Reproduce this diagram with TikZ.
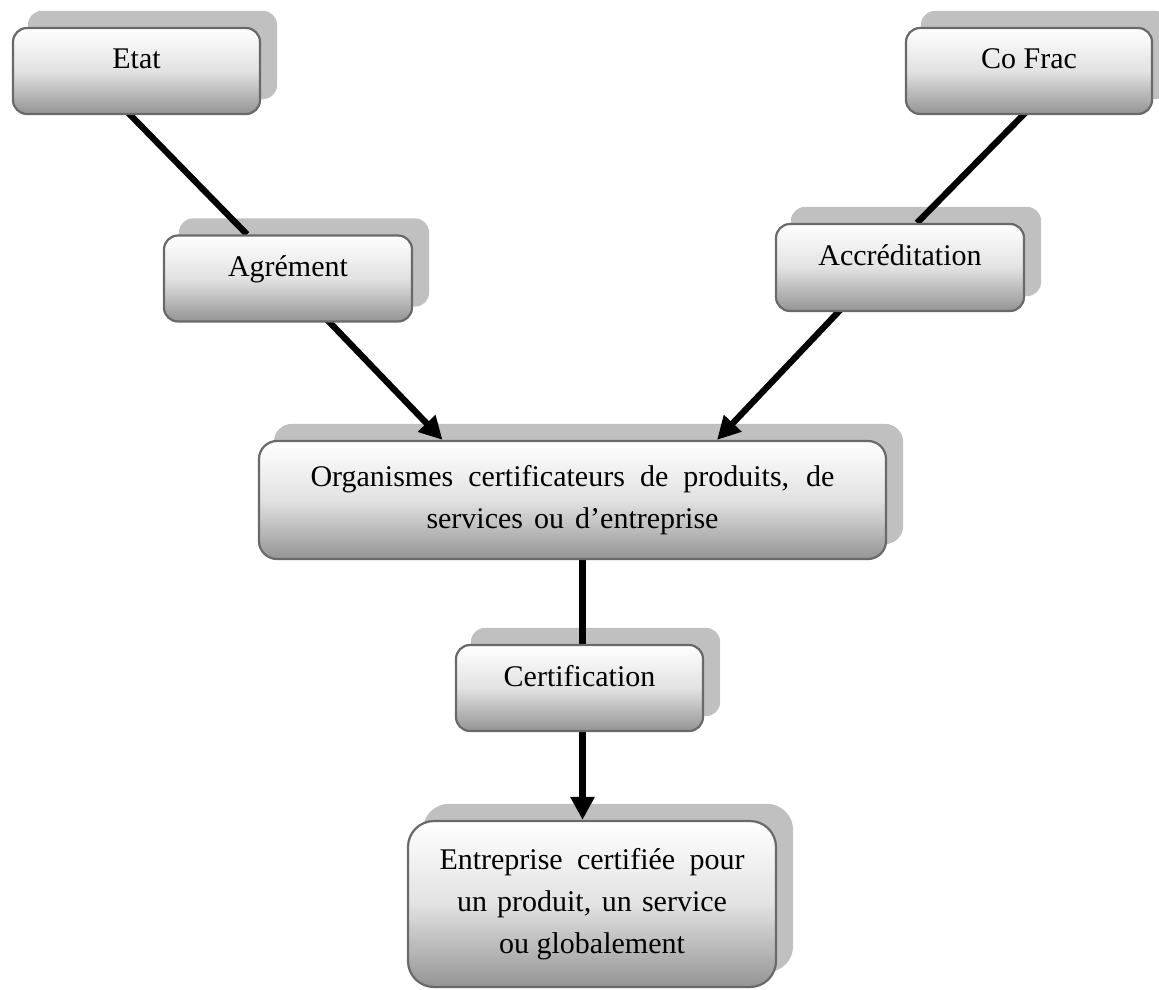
\documentclass[tikz,border=0pt]{standalone}
\usepackage{fontspec}
\setmainfont{Liberation Serif}
\usetikzlibrary{arrows.meta}

% drawing order: drop shadows, then connectors, then the boxes on top
\pgfdeclarelayer{shadows}
\pgfdeclarelayer{links}
\pgfsetlayers{shadows,links,main}

\definecolor{boxedge}{RGB}{105,105,105}
\definecolor{boxshadow}{RGB}{192,192,192}
\definecolor{boxmid}{RGB}{226,226,226}
\definecolor{boxlow}{RGB}{148,148,148}

\tikzset{
  box/.style={draw=boxedge, line width=2.2pt, rounded corners=#1,
    top color=white, bottom color=boxlow, middle color=boxmid,
    font=\fontsize{30}{42}\selectfont, inner sep=0pt, align=center},
  box/.default=14pt,
  oneline/.style={text height=8pt, text depth=12pt},
  link/.style={line width=6.3pt, black},
  arrowlink/.style={link, -{Triangle[length=23pt,width=23pt]}},
}

% grey drop shadow behind a box, shifted up and to the right
\newcommand\dropshade[2]{%
  \fill[boxshadow, rounded corners=#2]
    ([xshift=16pt,yshift=16pt]#1.south west) rectangle ([xshift=16pt,yshift=16pt]#1.north east);}

\begin{document}
\begin{tikzpicture}[x=1pt, y=-1pt]
\useasboundingbox (0,0) rectangle (1159,990);

% boxes
\node[box, oneline, minimum width=247pt, minimum height=86pt] (etat) at (136.5,71) {Etat};
\node[box, oneline, minimum width=246pt, minimum height=86pt] (cofrac) at (1029,71) {Co Frac};
\node[box, oneline, minimum width=248pt, minimum height=86pt] (agrement) at (288,278.5) {Agrément};
\node[box, oneline, minimum width=248pt, minimum height=87pt] (accred) at (900,267.5) {Accréditation};
\node[box=18pt, minimum width=627pt, minimum height=118pt] (organismes) at (572.5,500)
  {\makebox[524pt][s]{Organismes certificateurs de produits, de}\\
   \makebox[292pt][s]{services ou d’entreprise}};
\node[box, oneline, minimum width=247pt, minimum height=86pt] (certif) at (579.5,688) {Certification};
\node[box=26pt, minimum width=368pt, minimum height=166pt] (entreprise) at (592,904)
  {\makebox[305pt][s]{Entreprise certifiée pour}\\
   \makebox[270pt][s]{un produit, un service}\\
   ou globalement};

% shadows
\begin{pgfonlayer}{shadows}
  \dropshade{etat}{14pt}
  \dropshade{cofrac}{14pt}
  \dropshade{agrement}{14pt}
  \dropshade{accred}{14pt}
  \dropshade{organismes}{18pt}
  \dropshade{certif}{14pt}
  \dropshade{entreprise}{26pt}
\end{pgfonlayer}

% connectors
\begin{pgfonlayer}{links}
  \draw[link] ([xshift=-9pt,yshift=3pt]etat.south) -- ([xshift=-41pt]agrement.north);
  \draw[arrowlink] ([xshift=39pt,yshift=3pt]agrement.south) -- ([xshift=-130pt]organismes.north);
  \draw[link] ([xshift=-3pt,yshift=3pt]cofrac.south) -- ([xshift=17pt]accred.north);
  \draw[arrowlink] ([xshift=-59pt,yshift=3pt]accred.south) -- ([xshift=144.5pt]organismes.north);
  \draw[link] ([xshift=10pt,yshift=3pt]organismes.south) -- ([xshift=10pt]organismes.south |- certif.north);
  \draw[arrowlink] ([xshift=3pt,yshift=3pt]certif.south) -- ([xshift=3pt]certif.south |- entreprise.north);
\end{pgfonlayer}
\end{tikzpicture}
\end{document}
